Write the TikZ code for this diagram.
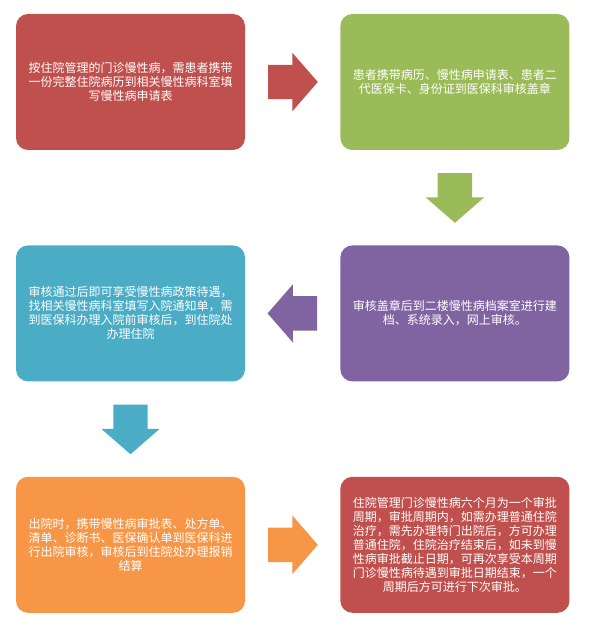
\documentclass[tikz,border=0pt]{standalone}
\usepackage{fontspec}
\newfontfamily\cjk{Noto Sans CJK SC}
\usetikzlibrary{positioning,shapes.arrows,calc}
\definecolor{boxred}{HTML}{C0504D}
\definecolor{boxgreen}{HTML}{9BBB59}
\definecolor{boxteal}{HTML}{4BACC6}
\definecolor{boxpurple}{HTML}{8064A2}
\definecolor{boxorange}{HTML}{F79646}
\begin{document}
\begin{tikzpicture}[x=1pt, y=1pt,
  box/.style={rounded corners=12pt, minimum width=229pt, minimum height=136pt,
    text width=206pt, align=center, inner sep=0pt, text=white,
    font=\cjk\fontsize{12}{14}\selectfont},
  blockarrow/.style={single arrow, anchor=tail, minimum height=49.6pt, inner xsep=0pt, inner ysep=17pt,
    single arrow head extend=12pt, single arrow tip angle=98}]
  \useasboundingbox (0,0) rectangle (600,-631);
  % boxes
  \node[box, fill=boxred] (apply) at (130.5,-82) {按住院管理的门诊慢性病，需患者携带\\一份完整住院病历到相关慢性病科室填\\写慢性病申请表};
  \node[box, fill=boxgreen, right=95pt of apply] (stamp) {患者携带病历、慢性病申请表、患者二\\代医保卡、身份证到医保科审核盖章};
  \node[box, fill=boxpurple, below=95pt of stamp] (archive) {审核盖章后到二楼慢性病档案室进行建\\档、系统录入，网上审核。};
  \node[box, fill=boxteal, left=95pt of archive] (admit) {审核通过后即可享受慢性病政策待遇，\\找相关慢性病科室填写入院通知单，需\\到医保科办理入院前审核后，到住院处\\办理住院};
  \node[box, fill=boxorange, below=95pt of admit] (discharge) {出院时，携带慢性病审批表、处方单、\\清单、诊断书、医保确认单到医保科进\\行出院审核，审核后到住院处办理报销\\结算};
  \node[box, fill=boxred, right=95pt of discharge] (period) {住院管理门诊慢性病六个月为一个审批\\周期，审批周期内，如需办理普通住院\\治疗，需先办理特门出院后，方可办理\\普通住院，住院治疗结束后，如未到慢\\性病审批截止日期，可再次享受本周期\\门诊慢性病待遇到审批日期结束，一个\\周期后方可进行下次审批。};
  % arrows
  \node[blockarrow, fill=boxred] (arrA) at ($(apply.east)!0.24!(stamp.west)$) {};
  \node[blockarrow, fill=boxgreen, rotate=-90] (arrB) at ($(stamp.south)!0.24!(archive.north)$) {};
  \node[blockarrow, fill=boxpurple, rotate=180] (arrC) at ($(archive.west)!0.24!(admit.east)$) {};
  \node[blockarrow, fill=boxteal, rotate=-90] (arrD) at ($(admit.south)!0.24!(discharge.north)$) {};
  \node[blockarrow, fill=boxorange] (arrE) at ($(discharge.east)!0.24!(period.west)$) {};
\end{tikzpicture}
\end{document}
